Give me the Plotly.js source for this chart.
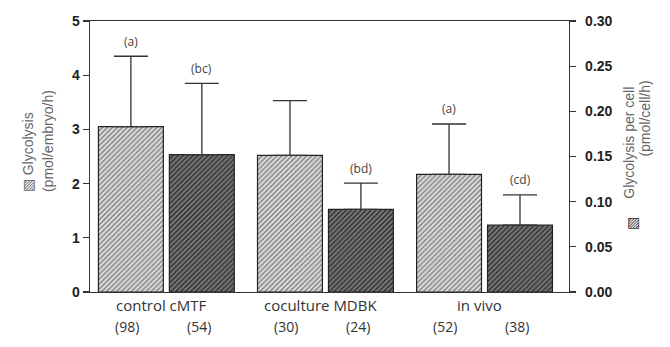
<!DOCTYPE html>
<html>
<head>
<meta charset="utf-8">
<script src="https://cdn.plot.ly/plotly-3.0.1.min.js"></script>
<style>html,body{margin:0;padding:0;background:#fff;}#chart{width:670px;height:347px;}</style>
</head>
<body>
<div id="chart"></div>
<script>
// ---- data ----
const groups = ["control cMTF", "coculture MDBK", "in vivo"];
const nEmbryo = ["(98)", "(30)", "(52)"];
const nCell = ["(54)", "(24)", "(38)"];
const glycEmbryo = [3.05, 2.52, 2.17];        // pmol/embryo/h (left axis)
const glycEmbryoErr = [1.30, 1.01, 0.93];
const glycCell = [0.152, 0.0915, 0.074];      // pmol/cell/h (right axis)
const glycCellErr = [0.079, 0.029, 0.0335];
const lettersEmbryo = ["(a)", "", "(a)"];
const lettersCell = ["(bc)", "(bd)", "(cd)"];

const idx = groups.map((g, i) => i);
const W = 0.408, OFF_L = -0.427, OFF_D = 0.019;

const light = {
  type: 'bar', x: idx, y: glycEmbryo, yaxis: 'y', width: W, offset: OFF_L,
  marker: { color: '#d6d6d6', line: { color: '#222', width: 1.2 },
    pattern: { shape: '/', fgcolor: '#707070', bgcolor: '#dedede', size: 3.5, solidity: 0.35 } },
  error_y: { type: 'data', array: glycEmbryoErr, arrayminus: glycEmbryo.map(() => 0), symmetric: false,
    color: '#333', thickness: 1.3, width: 17 },
  hoverinfo: 'skip', showlegend: false
};
const dark = {
  type: 'bar', x: idx, y: glycCell, yaxis: 'y2', width: W, offset: OFF_D,
  marker: { color: '#666', line: { color: '#222', width: 1.2 },
    pattern: { shape: '/', fgcolor: '#2a2a2a', bgcolor: '#7a7a7a', size: 3.5, solidity: 0.4 } },
  error_y: { type: 'data', array: glycCellErr, arrayminus: glycCell.map(() => 0), symmetric: false,
    color: '#333', thickness: 1.3, width: 17 },
  hoverinfo: 'skip', showlegend: false
};

const ann = [];
const letterFont = { family: 'Open Sans', size: 12, color: '#444' };
idx.forEach(i => {
  if (lettersEmbryo[i]) ann.push({ x: i + OFF_L + W / 2, y: glycEmbryo[i] + glycEmbryoErr[i], xref: 'x', yref: 'y',
    text: lettersEmbryo[i], showarrow: false, yshift: 15, font: letterFont });
  if (lettersCell[i]) ann.push({ x: i + OFF_D + W / 2, y: glycCell[i] + glycCellErr[i], xref: 'x', yref: 'y2',
    text: lettersCell[i], showarrow: false, yshift: 15, font: letterFont });
  ann.push({ x: i - 0.03, y: 0, xref: 'x', yref: 'paper', text: groups[i], showarrow: false, yshift: -25,
    font: { family: 'Open Sans', size: 15, color: '#333' } });
  ann.push({ x: i + OFF_L + W / 2, y: 0, xref: 'x', yref: 'paper', text: nEmbryo[i], showarrow: false, yshift: -46, xshift: -4,
    font: { family: 'Open Sans', size: 14, color: '#333' } });
  ann.push({ x: i + OFF_D + W / 2, y: 0, xref: 'x', yref: 'paper', text: nCell[i], showarrow: false, yshift: -46, xshift: -3,
    font: { family: 'Open Sans', size: 14, color: '#333' } });
});
const titleFont = { family: 'Liberation Sans', size: 14, color: '#666' };
ann.push({ x: 0, y: 0.516, xref: 'paper', yref: 'paper', xshift: -72, text: '▧ Glycolysis', textangle: -90,
  showarrow: false, font: titleFont });
ann.push({ x: 0, y: 0.557, xref: 'paper', yref: 'paper', xshift: -52, text: '(pmol/embryo/h)', textangle: -90,
  showarrow: false, font: titleFont });
ann.push({ x: 1, y: 0.549, xref: 'paper', yref: 'paper', xshift: 70.5, text: 'Glycolysis per cell', textangle: -90,
  showarrow: false, font: titleFont });
ann.push({ x: 1, y: 0.638, xref: 'paper', yref: 'paper', xshift: 86.5, text: '(pmol/cell/h)', textangle: -90,
  showarrow: false, font: titleFont });
ann.push({ x: 1, y: 0.2205, xref: 'paper', yref: 'paper', xshift: 72.5, text: '▨',
  showarrow: false, font: { family: 'DejaVu Sans', size: 14, color: '#333' } });

const tickFont = { family: 'Liberation Sans', size: 14, color: '#222', weight: 'bold' };
const layout = {
  width: 670, height: 347,
  margin: { l: 90, r: 100.5, t: 21, b: 55.3, pad: 0 },
  paper_bgcolor: '#fff', plot_bgcolor: '#fff',
  barmode: 'overlay',
  xaxis: { range: [-0.48, 2.531], showticklabels: false, ticks: '', showgrid: false, zeroline: false,
    showline: true, linecolor: '#333', linewidth: 1.3, mirror: true, fixedrange: true },
  yaxis: { range: [0, 5], dtick: 1, tick0: 0, ticks: 'outside', ticklen: 6, tickwidth: 1.3, tickcolor: '#333',
    showline: true, linecolor: '#333', linewidth: 1.3, showgrid: false, zeroline: false, tickfont: tickFont },
  yaxis2: { overlaying: 'y', side: 'right', range: [0, 0.3], dtick: 0.05, tick0: 0, tickformat: '.2f',
    ticks: 'outside', ticklen: 6, tickwidth: 1.3, tickcolor: '#333', ticklabelstandoff: 6,
    showline: true, linecolor: '#333', linewidth: 1.3, showgrid: false, zeroline: false, tickfont: tickFont },
  annotations: ann
};
Plotly.newPlot('chart', [light, dark], layout, { staticPlot: true, displayModeBar: false });
</script>
</body>
</html>
